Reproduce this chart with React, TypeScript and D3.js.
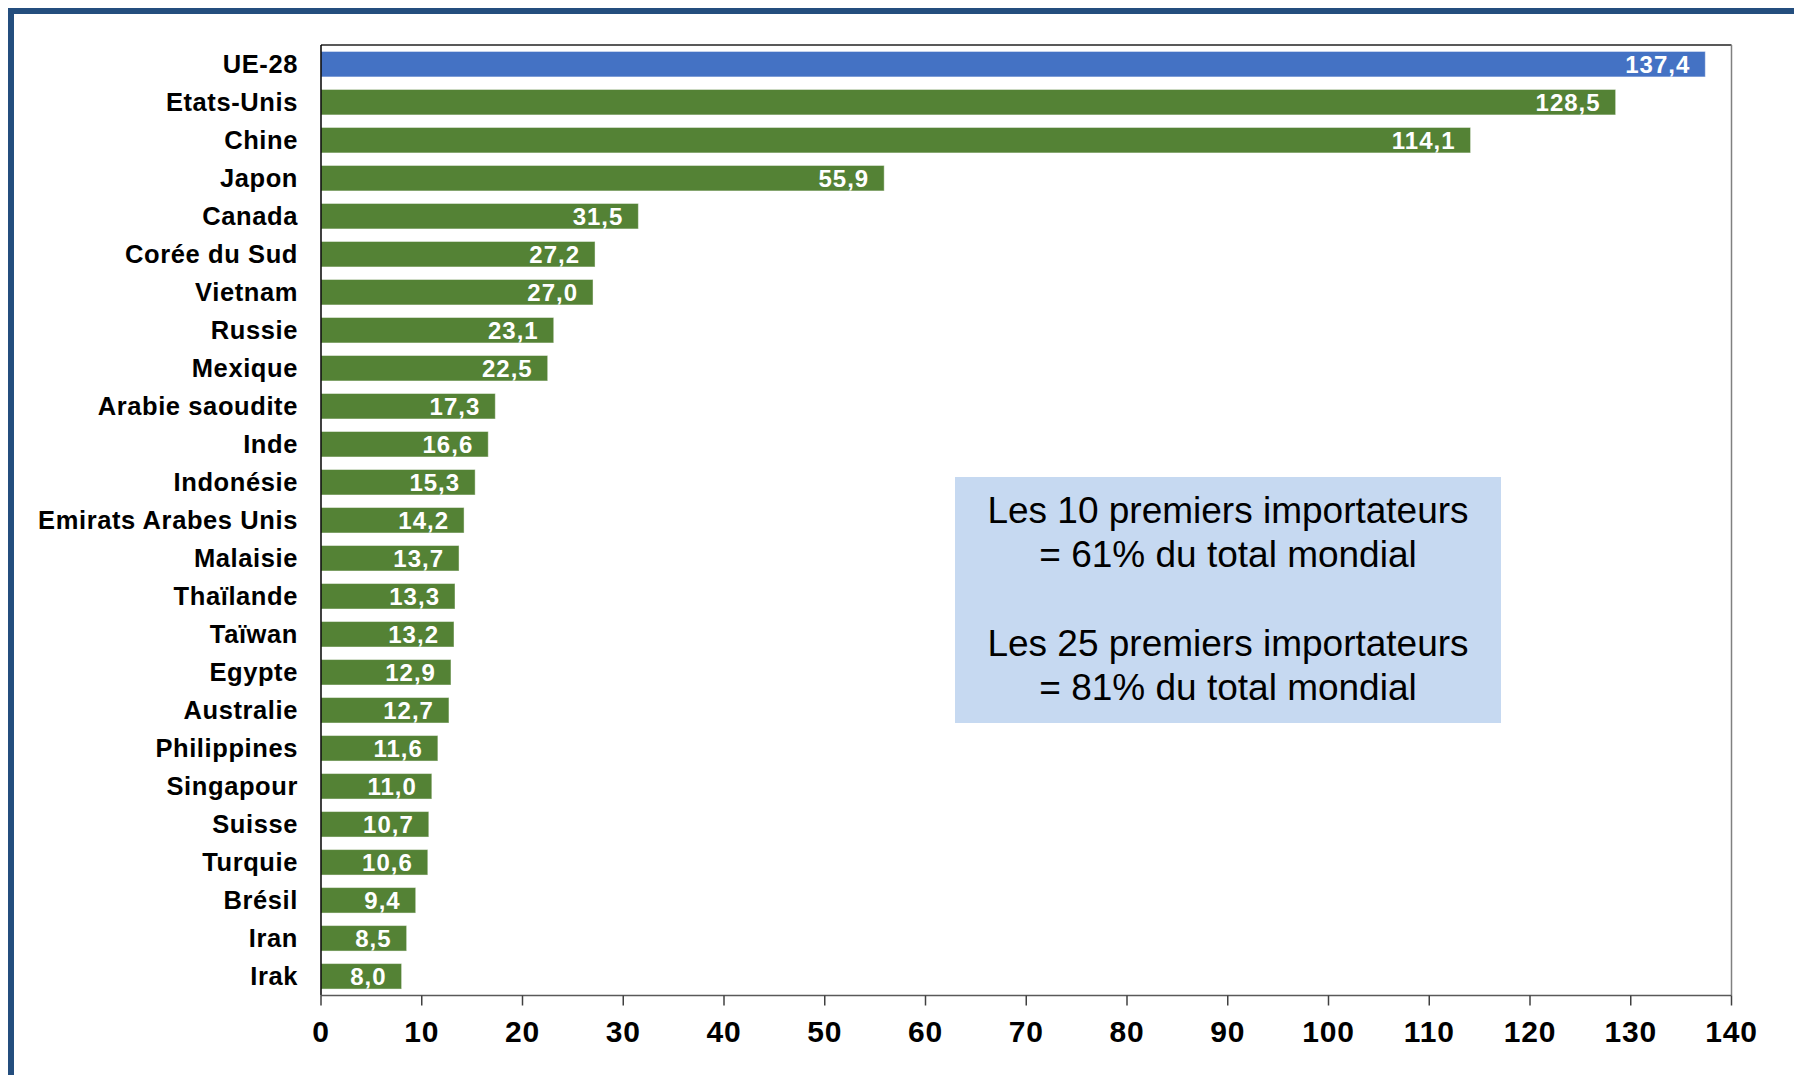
import React from "react";
import * as d3 from "d3";

const categories = [
  "UE-28", "Etats-Unis", "Chine", "Japon", "Canada", "Corée du Sud", "Vietnam", "Russie",
  "Mexique", "Arabie saoudite", "Inde", "Indonésie", "Emirats Arabes Unis", "Malaisie",
  "Thaïlande", "Taïwan", "Egypte", "Australie", "Philippines", "Singapour", "Suisse",
  "Turquie", "Brésil", "Iran", "Irak",
];
const values = [
  137.4, 128.5, 114.1, 55.9, 31.5, 27.2, 27.0, 23.1, 22.5, 17.3, 16.6, 15.3, 14.2, 13.7,
  13.3, 13.2, 12.9, 12.7, 11.6, 11.0, 10.7, 10.6, 9.4, 8.5, 8.0,
];
const highlighted = ["UE-28"];
const xTicks = [0, 10, 20, 30, 40, 50, 60, 70, 80, 90, 100, 110, 120, 130, 140];
const noteLines = [
  "Les 10 premiers importateurs",
  "= 61% du total mondial",
  "",
  "Les 25 premiers importateurs",
  "= 81% du total mondial",
];

const W = 1794;
const H = 1075;
const FONT = "'Liberation Sans', Arial, sans-serif";

export default function App() {
  const left = 321;
  const right = 1731.5;
  const top = 45;
  const bottom = 995.5;

  const x = d3.scaleLinear().domain([0, 140]).range([left, right]);
  const y = d3
    .scaleBand<string>()
    .domain(categories)
    .range([top, bottom])
    .paddingInner(0.33)
    .paddingOuter(0.17);

  const fmt = (v: number) => d3.format(".1f")(v).replace(".", ",");

  return (
    <svg
      width={W}
      height={H}
      style={{ position: "absolute", left: 0, top: 0, background: "#fff" }}
      fontFamily={FONT}
    >
      {/* outer frame */}
      <rect x={11} y={11} width={W + 20} height={H + 20} fill="none" stroke="#244E7E" strokeWidth={6} />

      {/* plot area border */}
      <line x1={left} x2={right} y1={top} y2={top} stroke="#222" strokeWidth={1.3} />
      <line x1={right} x2={right} y1={top} y2={bottom} stroke="#808080" strokeWidth={1.5} />

      {/* bars */}
      {categories.map((c, i) => (
        <rect
          key={c}
          x={x(0)}
          y={y(c)}
          width={x(values[i]) - x(0)}
          height={y.bandwidth()}
          fill={highlighted.includes(c) ? "#4472C4" : "#548235"}
          stroke="#ffffff"
          strokeOpacity={0.45}
          strokeWidth={1}
        />
      ))}

      {/* value labels */}
      {categories.map((c, i) => (
        <text
          key={"v" + c}
          x={x(values[i]) - 15}
          y={(y(c) as number) + y.bandwidth() / 2}
          dy="0.36em"
          textAnchor="end"
          fill="#ffffff"
          fontWeight="bold"
          fontSize={24}
          letterSpacing={1}
        >
          {fmt(values[i])}
        </text>
      ))}

      {/* category labels */}
      {categories.map((c) => (
        <text
          key={"c" + c}
          x={298}
          y={(y(c) as number) + y.bandwidth() / 2}
          dy="0.36em"
          textAnchor="end"
          fill="#000"
          fontWeight="bold"
          fontSize={25.5}
          letterSpacing={0.6}
        >
          {c}
        </text>
      ))}

      {/* y axis line */}
      <line x1={left} x2={left} y1={top} y2={bottom} stroke="#000" strokeWidth={1.5} />

      {/* x axis */}
      <line x1={left} x2={right} y1={bottom} y2={bottom} stroke="#595959" strokeWidth={1.5} />
      {xTicks.map((t) => (
        <g key={"t" + t}>
          <line x1={x(t)} x2={x(t)} y1={bottom} y2={bottom + 10} stroke="#404040" strokeWidth={1.5} />
          <text
            x={x(t)}
            y={1041.5}
            textAnchor="middle"
            fontWeight="bold"
            fontSize={30}
            letterSpacing={0.8}
            fill="#000"
          >
            {t}
          </text>
        </g>
      ))}

      {/* note box */}
      <rect x={955} y={477} width={546} height={246} fill="#C6D9F1" />
      {noteLines.map((l, i) => (
        <text key={"n" + i} x={1228} y={523 + i * 44.3} textAnchor="middle" fontSize={37} fill="#000">
          {l}
        </text>
      ))}
    </svg>
  );
}
